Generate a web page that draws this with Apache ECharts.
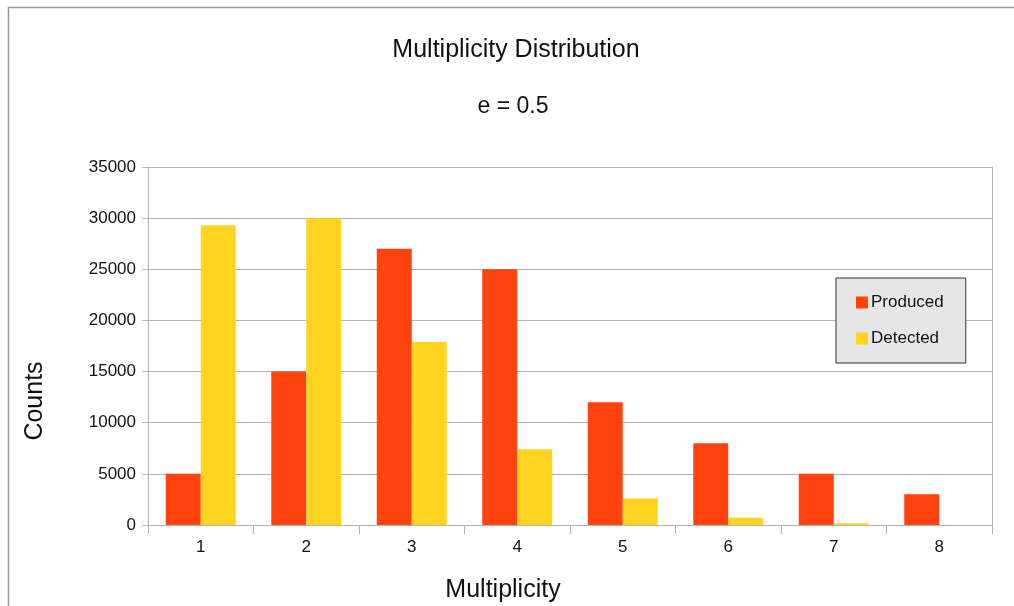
<!DOCTYPE html>
<html>
<head>
<meta charset="utf-8">
<script src="https://cdn.jsdelivr.net/npm/echarts@6/dist/echarts.min.js"></script>
<style>html,body{margin:0;padding:0;background:#fff}#c{width:1014px;height:606px}</style>
</head>
<body>
<div id="c"></div>
<script>
const categories = ['1','2','3','4','5','6','7','8'];
const produced = [5000, 15000, 27000, 25000, 12000, 8000, 5000, 3000];
const detected = [29300, 30000, 17900, 7400, 2600, 700, 170, 0];
const seriesNames = ['Produced', 'Detected'];
const titleText = 'Multiplicity Distribution';
const subtitleText = 'e = 0.5';
const xTitle = 'Multiplicity';
const yTitle = 'Counts';

const FONT = '"Liberation Sans", Arial, sans-serif';
const chart = echarts.init(document.getElementById('c'), null, {renderer: 'canvas'});
chart.setOption({
  animation: false,
  backgroundColor: '#fff',
  textStyle: {fontFamily: FONT},
  title: [
    {text: titleText, left: 511, top: 33, textAlign: 'center',
     textStyle: {fontFamily: FONT, fontSize: 25, fontWeight: 'normal', color: '#111'}},
    {text: subtitleText, left: 508, top: 90, textAlign: 'center',
     textStyle: {fontFamily: FONT, fontSize: 23, fontWeight: 'normal', color: '#111'}}
  ],
  legend: {
    data: seriesNames, orient: 'vertical', left: 836, top: 278,
    padding: [16, 22, 16, 20], itemGap: 19, itemWidth: 12, itemHeight: 12,
    backgroundColor: '#e6e6e6', borderColor: '#333', borderWidth: 1,
    icon: 'rect',
    textStyle: {fontFamily: FONT, fontSize: 17, color: '#111', padding: [0,0,0,-2]}
  },
  grid: {left: 148, top: 167, right: 22, bottom: 81, containLabel: false},
  xAxis: {
    type: 'category', data: categories, boundaryGap: true,
    axisLine: {lineStyle: {color: '#b3b3b3', width: 1}},
    axisTick: {show: true, length: 9, lineStyle: {color: '#b3b3b3'}},
    axisLabel: {fontFamily: FONT, fontSize: 17, color: '#111', margin: 14},
    splitLine: {show: false}
  },
  yAxis: [{
    type: 'value', min: 0, max: 35000, interval: 5000,
    axisLine: {show: true, lineStyle: {color: '#b3b3b3', width: 1}},
    axisTick: {show: true, length: 6, lineStyle: {color: '#b3b3b3'}},
    axisLabel: {fontFamily: FONT, fontSize: 17, color: '#111', margin: 12,
                formatter: v => String(v)},
    splitLine: {show: true, lineStyle: {color: '#b3b3b3', width: 1}}
  }, {
    type: 'value', min: 0, max: 35000, interval: 5000, position: 'right',
    axisLine: {show: true, lineStyle: {color: '#b3b3b3', width: 1}},
    axisTick: {show: false}, axisLabel: {show: false}, splitLine: {show: false}
  }],
  series: [
    {name: seriesNames[0], type: 'bar', data: produced, barWidth: 35, barGap: '0%',
     itemStyle: {color: '#ff420e'}},
    {name: seriesNames[1], type: 'bar', data: detected, barWidth: 35, barGap: '0%',
     itemStyle: {color: '#ffd320'}}
  ],
  graphic: [
    {type: 'polyline', shape: {points: [[8.5, 606], [8.5, 7.5], [1014, 7.5]]},
     style: {stroke: '#999', lineWidth: 1.5, fill: null}, silent: true},
    {type: 'text', x: 503, y: 590,
     style: {text: xTitle, fontFamily: FONT, fontSize: 25, fill: '#111', textAlign: 'center', textVerticalAlign: 'middle'}},
    {type: 'text', x: 35, y: 401, rotation: Math.PI / 2,
     style: {text: yTitle, fontFamily: FONT, fontSize: 25, fill: '#111', textAlign: 'center', textVerticalAlign: 'middle'}}
  ]
});
</script>
</body>
</html>
